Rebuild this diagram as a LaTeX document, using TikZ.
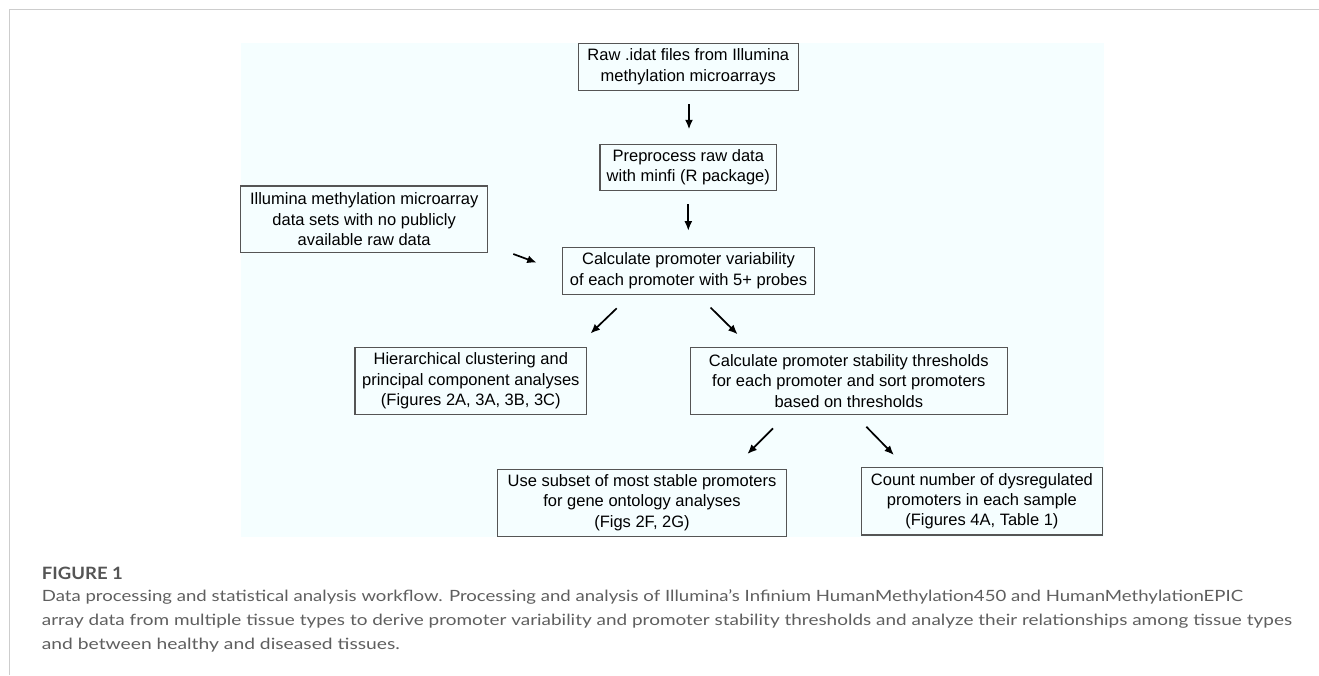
\documentclass[tikz,border=0pt]{standalone}
\usepackage{fontspec}
\setmainfont{Liberation Sans}
\newfontfamily\capfont{Lato}
\usepackage{graphicx}
\usetikzlibrary{arrows.meta}
\definecolor{bgcyan}{RGB}{245,254,255}
\definecolor{boxline}{RGB}{85,85,85}
\definecolor{frameline}{RGB}{205,205,205}
\definecolor{captext}{RGB}{95,95,95}
\begin{document}
\begin{tikzpicture}[x=1pt,y=-1pt,
  box/.style={draw=boxline, line width=1.1pt, inner sep=0pt, align=center,
    font=\fontsize{16.5}{20.3}\selectfont, text=black},
  arr/.style={-{Latex[length=9.5pt,width=8pt]}, line width=1.7pt, black},
  captxt/.style={anchor=base west, inner sep=0pt, text=captext, font=\capfont\fontsize{15.5}{15.5}\selectfont}]
\useasboundingbox (0,0) rectangle (1319,675);
\fill[white] (0,0) rectangle (1319,675);
\draw[frameline, line width=1.5pt] (9.5,675) -- (9.5,9.5) -- (1319,9.5);
\fill[bgcyan] (240.5,42.5) rectangle (1104,537);

\node[box, minimum width=220pt, minimum height=46.7pt] (raw) at (688.3,66.7)
  {Raw .idat files from Illumina\\methylation microarrays};
\node[box, minimum width=176.7pt, minimum height=46.4pt] (pre) at (688.3,167.5)
  {Preprocess raw data\\with minfi (R package)};
\node[box, minimum width=251.6pt, minimum height=46.7pt] (calc) at (688.5,270.7)
  {Calculate promoter variability\\of each promoter with 5+ probes};
\node[box, minimum width=247pt, minimum height=66.7pt] (illum) at (364.2,219.3)
  {Illumina methylation microarray\\data sets with no publicly\\available raw data};
\node[box, minimum width=231.7pt, minimum height=66.8pt] (hier) at (470.8,380.9)
  {Hierarchical clustering and\\principal component analyses\\(Figures 2A, 3A, 3B, 3C)};
\node[box, minimum width=317.5pt, minimum height=66.8pt] (stab) at (848.8,380.9)
  {Calculate promoter stability thresholds\\for each promoter and sort promoters\\based on thresholds};
\node[box, minimum width=289.4pt, minimum height=66.7pt] (use) at (642,502.7)
  {Use subset of most stable promoters\\for gene ontology analyses\\(Figs 2F, 2G)};
\node[box, minimum width=241.4pt, minimum height=67.3pt] (count) at (981.9,501.3)
  {Count number of dysregulated\\promoters in each sample\\(Figures 4A, Table 1)};

\coordinate (a1s) at (689,104);   \coordinate (a1e) at (689,129.3);
\coordinate (a2s) at (688.3,204); \coordinate (a2e) at (688.3,230.7);
\coordinate (a3s) at (513.3,254); \coordinate (a3e) at (536.7,262.7);
\coordinate (a4s) at (616.7,308.3); \coordinate (a4e) at (590.5,333.5);
\coordinate (a5s) at (710.5,307.5); \coordinate (a5e) at (737.6,334.3);
\coordinate (a6s) at (773,428.3); \coordinate (a6e) at (747.4,454);
\coordinate (a7s) at (866.3,426.7); \coordinate (a7e) at (893.9,455);
\draw[arr] (a1s) -- (a1e);
\draw[arr] (a2s) -- (a2e);
\draw[arr] (a3s) -- (a3e);
\draw[arr] (a4s) -- (a4e);
\draw[arr] (a5s) -- (a5e);
\draw[arr] (a6s) -- (a6e);
\draw[arr] (a7s) -- (a7e);

\node[captxt, font=\capfont\bfseries\fontsize{17}{17}\selectfont, text={rgb,255:red,85;green,85;blue,85}] (fig) at (41.7,579) {\resizebox{81pt}{\height}{FIGURE 1}};
\node[captxt] (c1) at (41.7,601.5) {\resizebox{1201pt}{\height}{Data processing and statistical analysis workflow. Processing and analysis of Illumina’s Infinium HumanMethylation450 and HumanMethylationEPIC}};
\node[captxt] (c2) at (41.7,625.5) {\resizebox{1250pt}{\height}{array data from multiple tissue types to derive promoter variability and promoter stability thresholds and analyze their relationships among tissue types}};
\node[captxt] (c3) at (41.7,649.5) {\resizebox{358pt}{\height}{and between healthy and diseased tissues.}};
\end{tikzpicture}
\end{document}
